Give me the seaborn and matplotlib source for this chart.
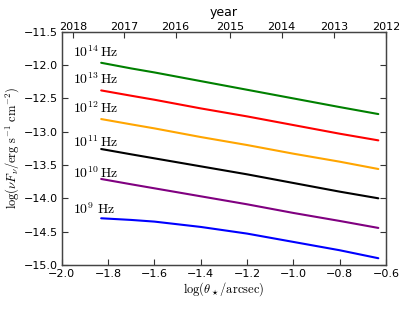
import pandas as pd
import matplotlib
matplotlib.use("Agg")
import matplotlib.pyplot as plt
import seaborn as sns

# Values
freq_labels = [r"$10^{9}\ {\rm Hz}$", r"$10^{10}\,{\rm Hz}$", r"$10^{11}\,{\rm Hz}$",
               r"$10^{12}\,{\rm Hz}$", r"$10^{13}\,{\rm Hz}$", r"$10^{14}\,{\rm Hz}$"]
colors = ["blue", "purple", "black", "orange", "red", "green"]

log_theta = [-1.83, -1.7, -1.6, -1.4, -1.2, -1.0, -0.8, -0.633]
flux_9 = [-14.30, -14.325, -14.35, -14.43, -14.53, -14.655, -14.78, -14.90]
flux_10 = [-13.71, -13.79, -13.85, -13.97, -14.09, -14.22, -14.34, -14.445]
flux_11 = [-13.26, -13.34, -13.40, -13.52, -13.64, -13.77, -13.90, -14.00]
flux_12 = [-12.81, -12.89, -12.95, -13.08, -13.20, -13.33, -13.45, -13.56]
flux_13 = [-12.38, -12.46, -12.52, -12.65, -12.77, -12.90, -13.03, -13.13]
flux_14 = [-11.965, -12.05, -12.11, -12.24, -12.37, -12.50, -12.63, -12.735]
fluxes = [flux_9, flux_10, flux_11, flux_12, flux_13, flux_14]

label_y = [-14.23, -13.69, -13.23, -12.72, -12.28, -11.88]
label_x = -1.95

years = ["2018", "2017", "2016", "2015", "2014", "2013", "2012"]
year_pos = [-1.952, -1.731, -1.509, -1.274, -1.051, -0.825, -0.600]

rows = []
for lab, ys in zip(freq_labels, fluxes):
    for x, y in zip(log_theta, ys):
        rows.append({"logtheta": x, "flux": y, "freq": lab})
df = pd.DataFrame(rows)

sns.set_style("white")
plt.rcParams["mathtext.fontset"] = "cm"
plt.rcParams["font.family"] = ["DejaVu Sans"]
plt.rcParams["text.color"] = "black"
plt.rcParams["axes.labelcolor"] = "black"

fig = plt.figure(figsize=(4.15, 3.12), dpi=100)
ax = fig.add_axes([0.149, 0.151, 0.781, 0.747])

sns.lineplot(data=df, x="logtheta", y="flux", hue="freq",
             palette=dict(zip(freq_labels, colors)), linewidth=1.5,
             legend=False, ax=ax)

for lab, y in zip(freq_labels, label_y):
    ax.text(label_x, y, lab, fontsize=10, ha="left", va="baseline", color="black")

ax.set_xlim(-2.0, -0.6)
ax.set_ylim(-15.0, -11.5)
ax.set_xticks([-2.0, -1.8, -1.6, -1.4, -1.2, -1.0, -0.8, -0.6])
ax.set_yticks([-15.0, -14.5, -14.0, -13.5, -13.0, -12.5, -12.0, -11.5])
ax.set_xlabel(r"$\log(\theta_\star/{\rm arcsec})$", fontsize=9, labelpad=1)
ax.set_ylabel(r"$\log(\nu F_\nu/{\rm erg\ s^{-1}\ cm^{-2}})$", fontsize=9, labelpad=2)
ax.tick_params(direction="in", left=True, right=True, bottom=True, top=False,
               labelsize=8, length=4, width=0.8, color="#333333",
               labelcolor="black", pad=3)

ax2 = ax.twiny()
ax2.set_xlim(ax.get_xlim())
ax2.set_xticks(year_pos)
ax2.set_xticklabels(years)
ax2.set_xlabel("year", fontsize=9, labelpad=4)
ax2.tick_params(direction="in", top=True, labelsize=8, length=4, width=0.8,
                color="#333333", labelcolor="black", pad=0)

for a in (ax, ax2):
    for sp in a.spines.values():
        sp.set_color("#444444")
        sp.set_linewidth(0.9)

fig.savefig("out.png", dpi=100)
